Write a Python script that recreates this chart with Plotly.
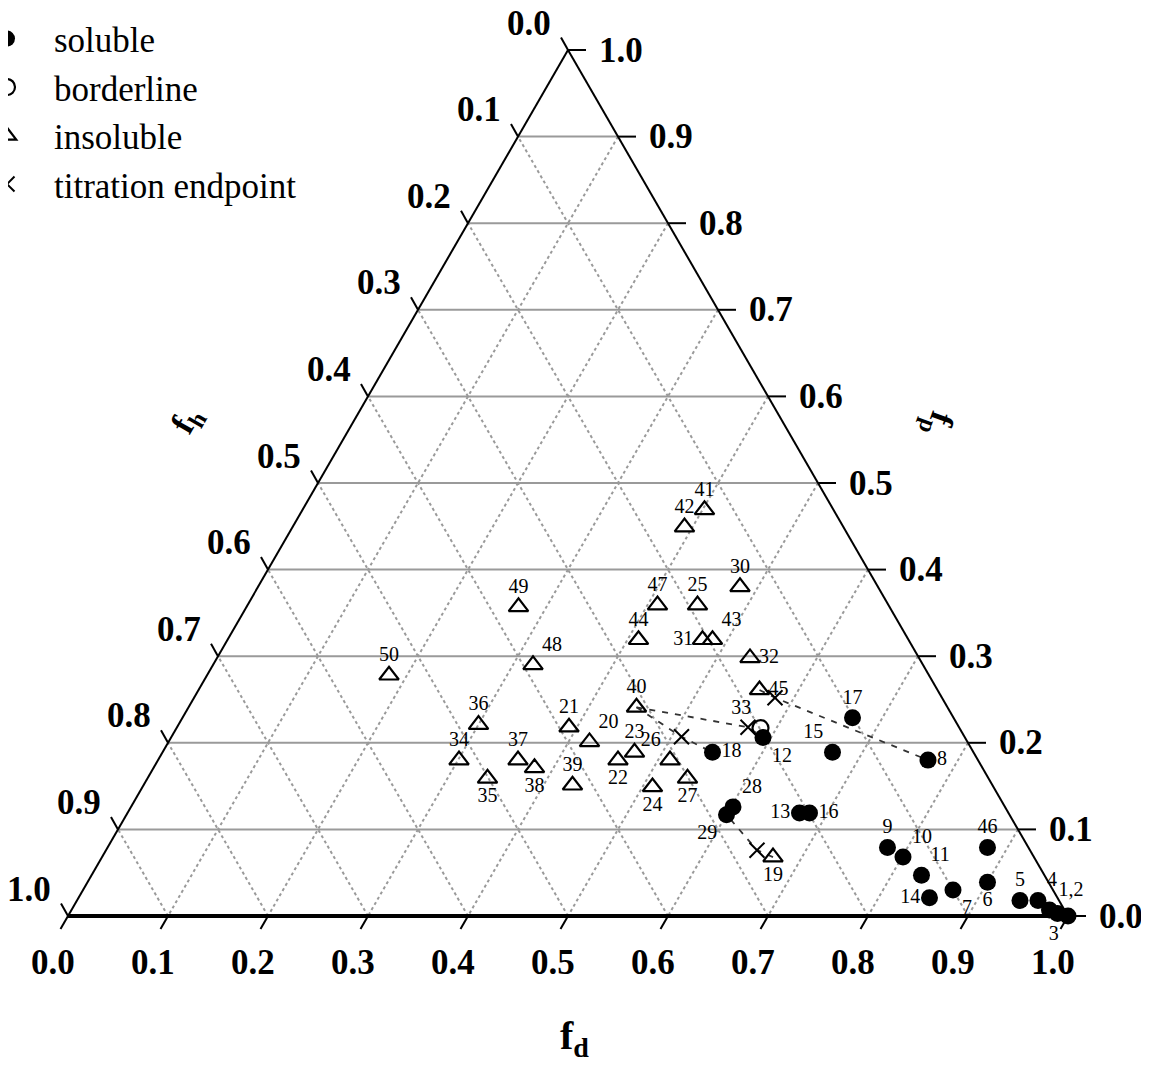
import plotly.graph_objects as go

# ---------------- data ----------------
axis_values = [0.0, 0.1, 0.2, 0.3, 0.4, 0.5, 0.6, 0.7, 0.8, 0.9, 1.0]
axis_labels = ["0.0", "0.1", "0.2", "0.3", "0.4", "0.5", "0.6", "0.7", "0.8", "0.9", "1.0"]

soluble_ids = ["1", "2", "3", "4", "5", "6", "7", "8", "9", "10", "11", "12", "13",
               "14", "15", "16", "17", "18", "28", "29", "46"]
soluble_fd = [0.978, 0.988, 1.000, 0.961, 0.943, 0.900, 0.870, 0.770, 0.780, 0.801, 0.830,
              0.592, 0.672, 0.851, 0.670, 0.682, 0.670, 0.550, 0.602, 0.600, 0.880]
soluble_fp = [0.007, 0.003, 0.000, 0.018, 0.018, 0.039, 0.030, 0.180, 0.079, 0.068, 0.047,
              0.206, 0.119, 0.021, 0.189, 0.119, 0.229, 0.189, 0.126, 0.117, 0.079]
soluble_fh = [0.015, 0.009, 0.000, 0.021, 0.039, 0.061, 0.100, 0.050, 0.141, 0.131, 0.123,
              0.202, 0.209, 0.128, 0.141, 0.199, 0.101, 0.261, 0.272, 0.283, 0.041]

borderline_ids = ["33"]
borderline_fd = [0.584]
borderline_fp = [0.217]
borderline_fh = [0.199]

insoluble_ids = ["19", "20", "21", "22", "23", "24", "25", "26", "27", "30", "31", "32",
                 "34", "35", "36", "37", "38", "39", "40", "41", "42", "43", "44", "45",
                 "47", "48", "49", "50"]
insoluble_fd = [0.671, 0.421, 0.392, 0.460, 0.472, 0.510, 0.450, 0.512, 0.540, 0.482, 0.475,
                0.533, 0.301, 0.340, 0.300, 0.360, 0.381, 0.429, 0.448, 0.402, 0.392, 0.485,
                0.411, 0.561, 0.410, 0.320, 0.272, 0.182]
insoluble_fp = [0.068, 0.201, 0.218, 0.180, 0.189, 0.149, 0.359, 0.180, 0.159, 0.380, 0.319,
                0.298, 0.180, 0.159, 0.221, 0.180, 0.171, 0.151, 0.241, 0.469, 0.449, 0.319,
                0.319, 0.261, 0.359, 0.290, 0.357, 0.278]
insoluble_fh = [0.261, 0.378, 0.390, 0.360, 0.339, 0.341, 0.191, 0.308, 0.301, 0.138, 0.206,
                0.169, 0.519, 0.501, 0.479, 0.460, 0.448, 0.420, 0.311, 0.129, 0.159, 0.196,
                0.270, 0.178, 0.231, 0.390, 0.371, 0.540]

endpoint_ids = ["E1", "E2", "E3", "E4"]
endpoint_fd = [0.510, 0.581, 0.571, 0.651]
endpoint_fp = [0.207, 0.252, 0.218, 0.076]
endpoint_fh = [0.283, 0.167, 0.211, 0.273]

# titration paths: start sample -> endpoint -> titrant sample
titration_paths = [["40", "E1", "18"], ["40", "E3", "12"], ["45", "E2", "8"], ["19", "E4", "29"]]

# label texts shown next to points
label_text = {i: i for i in soluble_ids + borderline_ids + insoluble_ids}
label_text["1"] = "1,2"
label_text["2"] = ""

# ---------------- styles ----------------
label_position = {
    "1": "top right", "2": "top right", "3": "bottom left", "4": "top right", "5": "top center",
    "6": "bottom center", "7": "bottom right", "8": "middle right", "9": "top center",
    "10": "top right", "11": "top right", "12": "bottom right", "13": "middle left",
    "14": "middle left", "15": "top left", "16": "middle right", "17": "top center",
    "18": "middle right", "28": "top right", "29": "bottom left", "46": "top center",
    "33": "top left",
    "19": "bottom center", "20": "top right", "21": "top center", "22": "bottom center",
    "23": "top center", "24": "bottom center", "25": "top center", "26": "top left",
    "27": "bottom center", "30": "top center", "31": "middle left", "32": "middle right",
    "34": "top center", "35": "bottom center", "36": "top center", "37": "top center",
    "38": "bottom center", "39": "top center", "40": "top center", "41": "top center",
    "42": "top center", "43": "top right", "44": "top center", "45": "middle right",
    "47": "top center", "48": "top right", "49": "top center", "50": "top center",
}

SERIF = "Liberation Serif"

fig = go.Figure()

# lookup of all coordinates by id
coords = {}
for ids, fd, fp, fh in [(soluble_ids, soluble_fd, soluble_fp, soluble_fh),
                        (borderline_ids, borderline_fd, borderline_fp, borderline_fh),
                        (insoluble_ids, insoluble_fd, insoluble_fp, insoluble_fh),
                        (endpoint_ids, endpoint_fd, endpoint_fp, endpoint_fh)]:
    for i, d, p, h in zip(ids, fd, fp, fh):
        coords[i] = (d, p, h)

# dashed titration lines
for path in titration_paths:
    fig.add_trace(go.Scatterternary(
        a=[coords[k][1] for k in path], b=[coords[k][2] for k in path],
        c=[coords[k][0] for k in path], mode="lines", showlegend=False, hoverinfo="skip",
        line=dict(color="#333333", width=1.8, dash="6px,7px"), cliponaxis=False))

# marker groups (plotly ternary: a = top (f_p), b = bottom-left (f_h), c = bottom-right (f_d))
fig.add_trace(go.Scatterternary(
    a=soluble_fp, b=soluble_fh, c=soluble_fd, mode="markers", name="soluble",
    marker=dict(symbol="circle", size=17, color="black"), cliponaxis=False))
fig.add_trace(go.Scatterternary(
    a=borderline_fp, b=borderline_fh, c=borderline_fd, mode="markers", name="borderline",
    marker=dict(symbol="circle-open", size=16, color="black", line=dict(width=2.2)),
    cliponaxis=False))
fig.add_trace(go.Scatterternary(
    a=insoluble_fp, b=insoluble_fh, c=insoluble_fd, mode="markers", name="insoluble",
    marker=dict(symbol="triangle-up-open", size=17, color="black", line=dict(width=2.2)),
    cliponaxis=False))
fig.add_trace(go.Scatterternary(
    a=endpoint_fp, b=endpoint_fh, c=endpoint_fd, mode="markers", name="titration endpoint",
    marker=dict(symbol="x-thin-open", size=15, color="black", line=dict(width=2)),
    cliponaxis=False))

# point number labels (invisible markers give the text a gap from the symbols)
for ids, fd, fp, fh in [(soluble_ids, soluble_fd, soluble_fp, soluble_fh),
                        (borderline_ids, borderline_fd, borderline_fp, borderline_fh),
                        (insoluble_ids, insoluble_fd, insoluble_fp, insoluble_fh)]:
    fig.add_trace(go.Scatterternary(
        a=fp, b=fh, c=fd, mode="markers+text", showlegend=False, hoverinfo="skip",
        marker=dict(size=13, opacity=0),
        text=[label_text[i] for i in ids],
        textposition=[label_position[i] for i in ids],
        textfont=dict(family=SERIF, size=20, color="black"), cliponaxis=False))

# ---- edge tick marks and tick labels ----
# The plot area is set to exactly the triangle's bounding box, so a ternary point maps to
# paper coordinates x = f_d + f_p / 2, y = f_p.
def edge_point(edge, v):
    if edge == "bottom":   # f_d axis: f_p = 0, f_d = v
        fd, fp = v, 0.0
    elif edge == "right":  # f_p axis: f_h = 0, f_p = v
        fd, fp = 1.0 - v, v
    else:                  # f_h axis: f_d = 0, f_h = v
        fd, fp = 0.0, 1.0 - v
    return fd + fp / 2.0, fp

tick_dir = {"bottom": (-7.5, -13.0), "right": (18.0, 0.0), "left": (-7.0, 12.5)}  # px, y up
label_off = {"bottom": (-15, -46), "right": (53, 0), "left": (-39, 27)}           # px, y up

shapes = []
annotations = []
for edge in ["bottom", "right", "left"]:
    for v, txt in zip(axis_values, axis_labels):
        px, py = edge_point(edge, v)
        tdx, tdy = tick_dir[edge]
        shapes.append(dict(type="line", xref="paper", yref="paper",
                           xsizemode="pixel", ysizemode="pixel", xanchor=px, yanchor=py,
                           x0=0, y0=0, x1=tdx, y1=tdy,
                           line=dict(color="black", width=2)))
        ldx, ldy = label_off[edge]
        annotations.append(dict(text=txt, x=px, y=py, xref="paper", yref="paper",
                                xshift=ldx, yshift=ldy, showarrow=False,
                                xanchor="center", yanchor="middle",
                                font=dict(family=SERIF, size=35, color="black",
                                          weight="bold")))

annotations += [
    dict(text="<b>f<sub>d</sub></b>", x=0.506, y=-0.172, xref="paper", yref="paper",
         showarrow=False, font=dict(family=SERIF, size=40, color="black")),
    dict(text="<b>f<sub>h</sub></b>", x=0.092, y=0.572, xref="paper", yref="paper",
         showarrow=False, textangle=-60, font=dict(family=SERIF, size=34, color="black")),
    dict(text="<b>f<sub>p</sub></b>", x=0.896, y=0.568, xref="paper", yref="paper",
         showarrow=False, textangle=110, font=dict(family=SERIF, size=34, color="black")),
]


def axis(grid_dash, line_width):
    return dict(
        title=dict(text=""), min=0,
        tickmode="array", tickvals=axis_values, showticklabels=False, ticks="",
        showline=True, linecolor="black", linewidth=line_width,
        showgrid=True, gridcolor="#9a9a9a", gridwidth=1.5, griddash=grid_dash,
        layer="above traces",
    )


fig.update_layout(
    width=1141, height=1058,
    margin=dict(l=60, r=81, t=42, b=150, autoexpand=False),
    paper_bgcolor="white",
    ternary=dict(sum=1, bgcolor="white",
                 aaxis=axis("solid", 2), baxis=axis("dot", 4), caxis=axis("dot", 2)),
    showlegend=True,
    legend=dict(x=-0.108, y=1.047, xanchor="left", yanchor="top",
                font=dict(family=SERIF, size=35, color="black"),
                bgcolor="rgba(0,0,0,0)", itemwidth=84, tracegroupgap=0),
    shapes=shapes,
    annotations=annotations,
)

fig.write_html("out.html")
